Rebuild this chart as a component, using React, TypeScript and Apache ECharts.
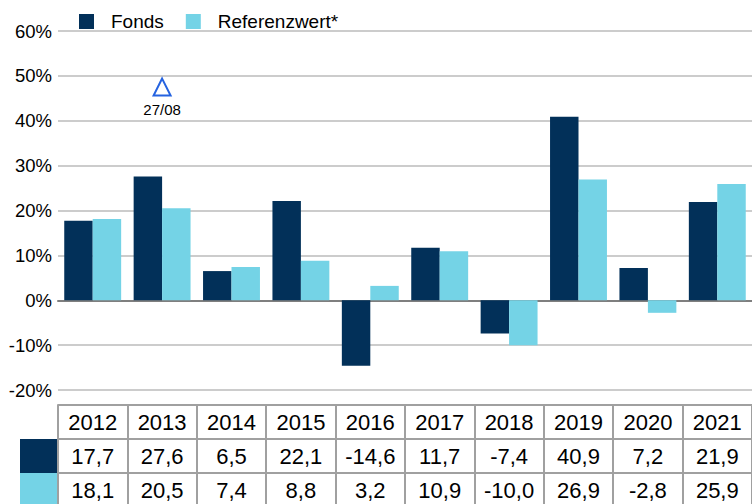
import React, { useEffect, useRef } from "react";
import * as echarts from "echarts";

const years = ["2012", "2013", "2014", "2015", "2016", "2017", "2018", "2019", "2020", "2021"];
const fonds = [17.7, 27.6, 6.5, 22.1, -14.6, 11.7, -7.4, 40.9, 7.2, 21.9];
const referenz = [18.1, 20.5, 7.4, 8.8, 3.2, 10.9, -10.0, 26.9, -2.8, 25.9];
const markerPoint: [string, number] = ["2013", 47.5];
const markerLabel = "27/08";
const yTicks = { min: -20, max: 60, interval: 10 };

const NAVY = "#023059";
const CYAN = "#74D3E6";
const FONT = "Liberation Sans, Arial, Helvetica, sans-serif";
const fmt = (v: number) => v.toFixed(1).replace(".", ",");

export default function App() {
  const ref = useRef<HTMLDivElement>(null);
  useEffect(() => {
    document.body.style.margin = "0";
    const chart = echarts.init(ref.current!, undefined, { renderer: "svg" });
    const tableAxis = (data: string[], offset: number, ticks: boolean) => ({
      type: "category",
      data,
      position: "bottom",
      offset,
      axisLine: { show: true, onZero: false, lineStyle: { color: "#a0a0a0", width: 2 } },
      axisTick: { show: ticks, length: 100, interval: 0, lineStyle: { color: "#a0a0a0", width: 2 } },
      axisLabel: {
        show: true,
        interval: 0,
        margin: 17,
        verticalAlign: "middle",
        fontSize: 22,
        color: "#000",
        fontFamily: FONT,
      },
      splitLine: { show: false },
    });
    chart.setOption({
      animation: false,
      textStyle: { fontFamily: FONT },
      legend: {
        top: 7,
        left: 74,
        icon: "rect",
        itemWidth: 15,
        itemHeight: 15,
        itemGap: 22,
        data: ["Fonds", "Referenzwert*"],
        textStyle: { fontSize: 19, color: "#000", fontFamily: FONT, padding: [0, 0, 0, 12] },
      },
      grid: { left: 58, right: 0, top: 31, bottom: 114, containLabel: false },
      xAxis: [
        {
          type: "category",
          data: years,
          axisLine: { show: true, onZero: true, lineStyle: { color: "#7f7f7f", width: 2 } },
          axisTick: { show: false },
          axisLabel: { show: false },
        },
        tableAxis(years, 15, true),
        tableAxis(fonds.map(fmt), 49, false),
        tableAxis(referenz.map(fmt), 83, false),
      ],
      yAxis: {
        type: "value",
        min: yTicks.min,
        max: yTicks.max,
        interval: yTicks.interval,
        axisLine: { show: false },
        axisTick: { show: false },
        axisLabel: { formatter: "{value}%", fontSize: 18.5, color: "#000", margin: 6, fontFamily: FONT },
        splitLine: { lineStyle: { color: "#cccccc", width: 2 } },
      },
      series: [
        {
          name: "Fonds",
          type: "bar",
          data: fonds,
          itemStyle: { color: NAVY },
          barGap: "0%",
          barCategoryGap: "18%",
        },
        {
          name: "Referenzwert*",
          type: "bar",
          data: referenz,
          itemStyle: { color: CYAN },
          barGap: "0%",
          barCategoryGap: "18%",
        },
        {
          type: "scatter",
          data: [markerPoint],
          symbol: "triangle",
          symbolSize: [17, 17],
          itemStyle: { color: "#ffffff", borderColor: "#2563E0", borderWidth: 2, opacity: 1 },
          label: {
            show: true,
            position: "bottom",
            distance: 5,
            formatter: markerLabel,
            fontSize: 15,
            color: "#000",
            opacity: 1,
            fontFamily: FONT,
          },
          z: 5,
        },
      ],
      graphic: [
        { type: "rect", shape: { x: 20, y: 439, width: 38, height: 34 }, style: { fill: NAVY } },
        { type: "rect", shape: { x: 20, y: 473, width: 38, height: 34 }, style: { fill: CYAN } },
      ],
    });
    return () => chart.dispose();
  }, []);
  return <div ref={ref} style={{ width: 752, height: 504 }} />;
}
